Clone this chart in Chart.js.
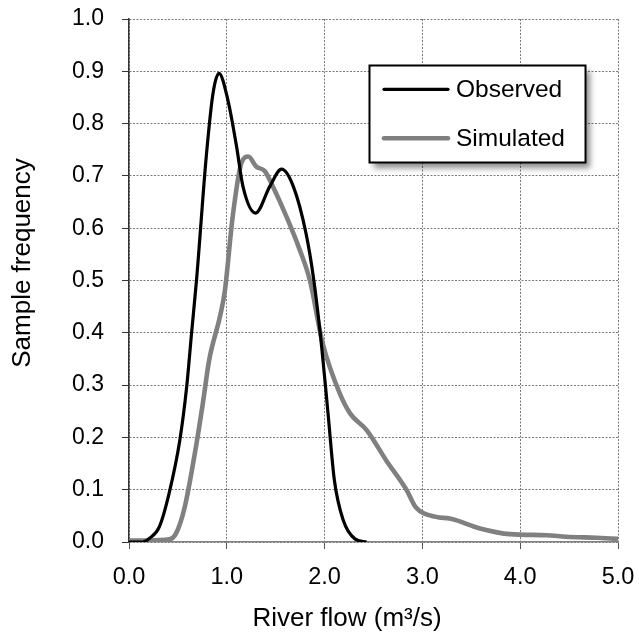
<!DOCTYPE html>
<html>
<head>
<meta charset="utf-8">
<script src="https://cdn.jsdelivr.net/npm/chart.js@4/dist/chart.umd.min.js"></script>
<style>
html,body{margin:0;padding:0;background:#fff;}
#wrap{width:639px;height:639px;position:relative;}
</style>
</head>
<body>
<div id="wrap"><canvas id="c" width="639" height="639"></canvas></div>
<script>
const seriesNames = ["Observed", "Simulated"];
const obsX = [0, 0.14, 0.21, 0.31, 0.41, 0.52, 0.59, 0.64, 0.69, 0.79, 0.86, 0.92, 1.01, 1.10, 1.165, 1.295, 1.44, 1.56, 1.68, 1.81, 1.89, 1.97, 2.035, 2.10, 2.19, 2.31, 2.43];
const obsY = [0, 0, 0.007, 0.029, 0.093, 0.195, 0.297, 0.40, 0.50, 0.737, 0.859, 0.896, 0.846, 0.756, 0.68, 0.629, 0.68, 0.713, 0.68, 0.59, 0.50, 0.373, 0.246, 0.118, 0.042, 0.006, 0];
const simX = [0, 0.2, 0.41, 0.48, 0.57, 0.69, 0.755, 0.82, 0.93, 0.98, 1.06, 1.15, 1.22, 1.30, 1.39, 1.47, 1.61, 1.745, 1.85, 1.98, 2.155, 2.26, 2.43, 2.63, 2.84, 2.93, 3.14, 3.28, 3.59, 3.895, 4.27, 4.47, 4.78, 5.0];
const simY = [0.003, 0.003, 0.005, 0.016, 0.067, 0.188, 0.265, 0.348, 0.431, 0.48, 0.622, 0.725, 0.737, 0.718, 0.709, 0.68, 0.622, 0.559, 0.50, 0.38, 0.284, 0.246, 0.214, 0.156, 0.099, 0.067, 0.048, 0.045, 0.026, 0.015, 0.013, 0.010, 0.008, 0.006];
const xTitle = "River flow (m³/s)";
const yTitle = "Sample frequency";

const FONT = "'Liberation Sans', Arial, sans-serif";
const toPts = (xs, ys) => xs.map((x, i) => ({x: x, y: ys[i]}));

const titlesPlugin = {
  id: 'titles',
  afterDraw(chart) {
    const ctx = chart.ctx;
    ctx.save();
    ctx.fillStyle = '#000';
    ctx.font = "26px " + FONT;
    ctx.textAlign = 'center';
    ctx.textBaseline = 'middle';
    ctx.fillText(xTitle, 347, 619);
    ctx.translate(23, 263);
    ctx.rotate(-Math.PI / 2);
    ctx.fillText(yTitle, 0, 0);
    ctx.restore();
  }
};

const legendPlugin = {
  id: 'boxLegend',
  afterDraw(chart) {
    const ctx = chart.ctx;
    const bx = 369.5, by = 65.5, bw = 216, bh = 97;
    ctx.save();
    ctx.shadowColor = 'rgba(0,0,0,0.45)';
    ctx.shadowBlur = 6;
    ctx.shadowOffsetX = 4;
    ctx.shadowOffsetY = 5;
    ctx.fillStyle = '#fff';
    ctx.fillRect(bx, by, bw, bh);
    ctx.restore();
    ctx.save();
    ctx.strokeStyle = '#000';
    ctx.lineWidth = 2;
    ctx.strokeRect(bx, by, bw, bh);
    const rows = [89.3, 138.3];
    chart.data.datasets.forEach((ds, i) => {
      ctx.strokeStyle = ds.borderColor;
      ctx.lineWidth = ds.borderWidth;
      ctx.lineCap = 'round';
      ctx.beginPath();
      ctx.moveTo(384, rows[i]);
      ctx.lineTo(448, rows[i]);
      ctx.stroke();
      ctx.fillStyle = '#000';
      ctx.font = "24.5px " + FONT;
      ctx.textAlign = 'left';
      ctx.textBaseline = 'middle';
      ctx.fillText(ds.label, 456, rows[i] + 1);
    });
    ctx.restore();
  }
};

new Chart(document.getElementById('c'), {
  type: 'line',
  data: {
    datasets: [
      {label: seriesNames[0], data: toPts(obsX, obsY), borderColor: '#000000', borderWidth: 3.2, pointRadius: 0, cubicInterpolationMode: 'monotone', fill: false},
      {label: seriesNames[1], data: toPts(simX, simY), borderColor: '#808080', borderWidth: 4.6, pointRadius: 0, cubicInterpolationMode: 'monotone', fill: false}
    ]
  },
  options: {
    responsive: false,
    animation: false,
    devicePixelRatio: 1,
    layout: {padding: 0},
    plugins: {legend: {display: false}, tooltip: {enabled: false}},
    scales: {
      x: {
        type: 'linear', min: 0, max: 5,
        afterFit(s) { s.height = 97; s.paddingLeft = 0; s.paddingRight = 21; },
        ticks: {stepSize: 1, callback: v => Number(v).toFixed(1), color: '#000', font: {family: FONT, size: 23.5}, padding: 14, maxRotation: 0},
        grid: {color: '#7a7a7a', lineWidth: 1, tickLength: 7, tickColor: '#555', tickBorderDash: []},
        border: {display: true, color: '#808080', width: 1.5, dash: [2, 1.5]}
      },
      y: {
        type: 'linear', min: 0, max: 1,
        afterFit(s) { s.width = 129; s.paddingTop = 19; s.paddingBottom = 0; },
        ticks: {stepSize: 0.1, callback: v => Number(v).toFixed(1), color: '#000', font: {family: FONT, size: 23}, padding: 18},
        grid: {color: '#7a7a7a', lineWidth: 1, tickLength: 7, tickColor: '#333', tickBorderDash: []},
        border: {display: true, color: '#333', width: 1.5, dash: [2, 1.5]}
      }
    }
  },
  plugins: [titlesPlugin, legendPlugin]
});
</script>
</body>
</html>
